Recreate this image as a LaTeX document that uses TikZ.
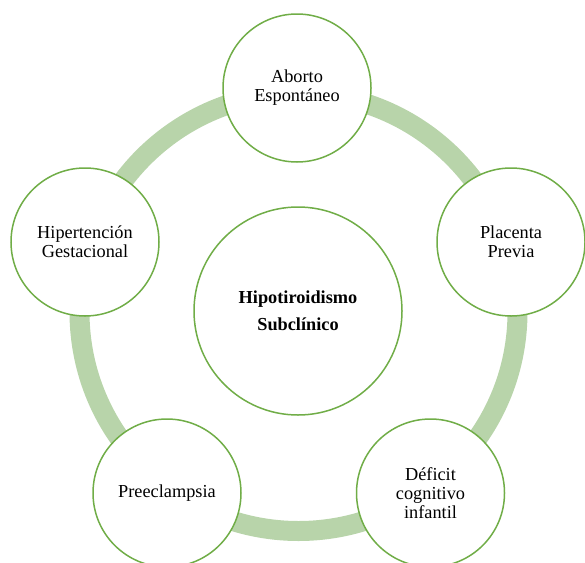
\documentclass[tikz,border=0pt]{standalone}
\usepackage{fontspec}
\setmainfont{Liberation Serif}
\definecolor{ringgreen}{RGB}{184,212,170}
\definecolor{edgegreen}{RGB}{112,173,71}
\tikzset{
  outer/.style={circle, draw=edgegreen, line width=1.5pt, fill=white,
    minimum size=148pt, inner sep=0pt, align=center,
    font=\fontsize{18.3}{19}\selectfont},
  core/.style={circle, draw=edgegreen, line width=1.5pt, fill=white,
    minimum size=208pt, inner sep=0pt, align=center,
    font=\fontsize{18.3}{27}\selectfont\bfseries},
  ring/.style={draw=ringgreen, line width=20pt}
}
\begin{document}
\begin{tikzpicture}[x=1pt, y=-1pt]
\useasboundingbox (0,0) rectangle (585,562);
\clip (0,0) rectangle (585,562);
\coordinate (o) at (298.5,312);
\draw[ring] (o) circle[radius=219pt];
\node[core] (c) at (298,311) {Hipotiroidismo\\Subclínico};
\node[outer] (a) at (297,88) {Aborto\\Espontáneo};
\node[outer] (b) at (511,242) {Placenta\\Previa};
\node[outer] (d) at (430.5,493) {Déficit\\cognitivo\\infantil};
\node[outer] (e) at (167,493) {Preeclampsia};
\node[outer] (f) at (85,242) {Hipertención\\Gestacional};
\end{tikzpicture}
\end{document}
